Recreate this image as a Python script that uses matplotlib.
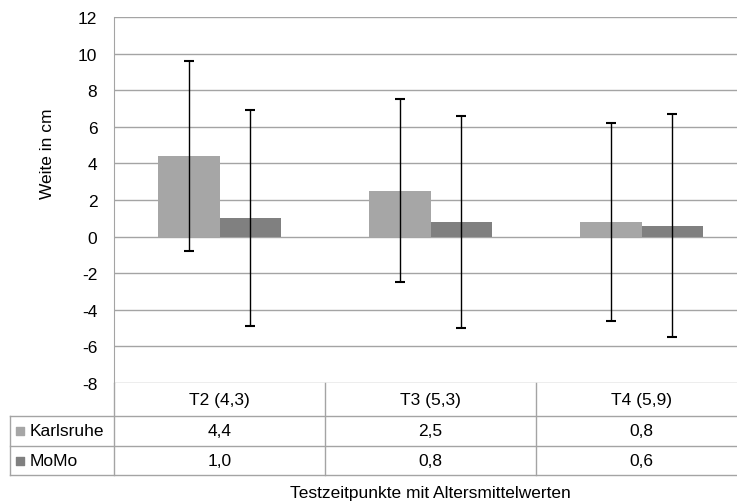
import numpy as np
import matplotlib.pyplot as plt

plt.rcParams['font.family'] = ['Liberation Sans', 'DejaVu Sans']

categories = ['T2 (4,3)', 'T3 (5,3)', 'T4 (5,9)']
series_names = ['Karlsruhe', 'MoMo']
karlsruhe = [4.4, 2.5, 0.8]
momo = [1.0, 0.8, 0.6]
karlsruhe_err = [5.2, 5.0, 5.4]
momo_err = [5.9, 5.8, 6.1]
table_labels = [['4,4', '2,5', '0,8'], ['1,0', '0,8', '0,6']]
y_ticks = [-8, -6, -4, -2, 0, 2, 4, 6, 8, 10, 12]

colors = ['#a6a6a6', '#808080']
grid_color = '#a4a4a4'
fs = 12.5


def draw_chart():
    fig = plt.figure(figsize=(7.37, 5.02), dpi=100)
    ax = fig.add_axes([114 / 737, 1 - 384 / 502, 633 / 737, 366 / 502])

    x = np.arange(len(categories))
    w = 0.29
    ax.bar(x - w / 2, karlsruhe, w, color=colors[0], zorder=2)
    ax.bar(x + w / 2, momo, w, color=colors[1], zorder=2)
    ax.errorbar(x - w / 2, karlsruhe, yerr=karlsruhe_err, fmt='none',
                ecolor='black', elinewidth=1, capsize=3.5, capthick=1.5, zorder=3)
    ax.errorbar(x + w / 2, momo, yerr=momo_err, fmt='none',
                ecolor='black', elinewidth=1, capsize=3.5, capthick=1.5, zorder=3)

    ax.set_xlim(-0.5, len(categories) - 0.5)
    ax.set_ylim(-8, 12)
    ax.set_yticks(y_ticks)
    ax.set_yticklabels([str(t) for t in y_ticks], fontsize=fs)
    ax.set_xticks([])
    ax.tick_params(axis='y', length=0, pad=12)
    ax.grid(axis='y', color=grid_color, linewidth=1, zorder=0)
    for s in ['top', 'right', 'bottom']:
        ax.spines[s].set_visible(False)
    ax.spines['left'].set_color(grid_color)

    # data table below the plot
    px = 1 / 366
    rows = [0, -33 * px, -63 * px, -92 * px]
    tr = ax.get_xaxis_transform()
    x_left = -0.5 - 104 / 211
    x_right = len(categories) - 0.5
    line_kw = dict(color=grid_color, linewidth=1, clip_on=False, transform=tr)
    ax.plot([x_left, x_right], [rows[1]] * 2, **line_kw)
    ax.plot([x_left, x_right], [rows[2]] * 2, **line_kw)
    ax.plot([x_left, x_right], [rows[3]] * 2, **line_kw)
    ax.plot([x_left, x_left], [rows[1], rows[3]], **line_kw)
    for b in np.arange(len(categories) + 1) - 0.5:
        ax.plot([b, b], [rows[0], rows[3]], **line_kw)

    for i, c in enumerate(categories):
        ax.text(i, (rows[0] + rows[1]) / 2, c, transform=tr, ha='center',
                va='center', fontsize=fs)
        for r in range(2):
            ax.text(i, (rows[r + 1] + rows[r + 2]) / 2, table_labels[r][i],
                    transform=tr, ha='center', va='center', fontsize=fs)
    for r, name in enumerate(series_names):
        ym = (rows[r + 1] + rows[r + 2]) / 2
        ax.scatter([x_left + 10 / 211], [ym], marker='s', s=30, color=colors[r],
                   transform=tr, clip_on=False)
        ax.text(x_left + 20 / 211, ym, name, transform=tr, ha='left',
                va='center', fontsize=fs)

    fig.text(430 / 737, 1 - 494 / 502, 'Testzeitpunkte mit Altersmittelwerten',
             ha='center', va='center', fontsize=fs)
    fig.text(47 / 737, 1 - 154 / 502, 'Weite in cm', rotation=90,
             ha='center', va='center', fontsize=fs)

    fig.savefig('out.png', dpi=100)


def main():
    draw_chart()


if __name__ == "__main__":
    main()
